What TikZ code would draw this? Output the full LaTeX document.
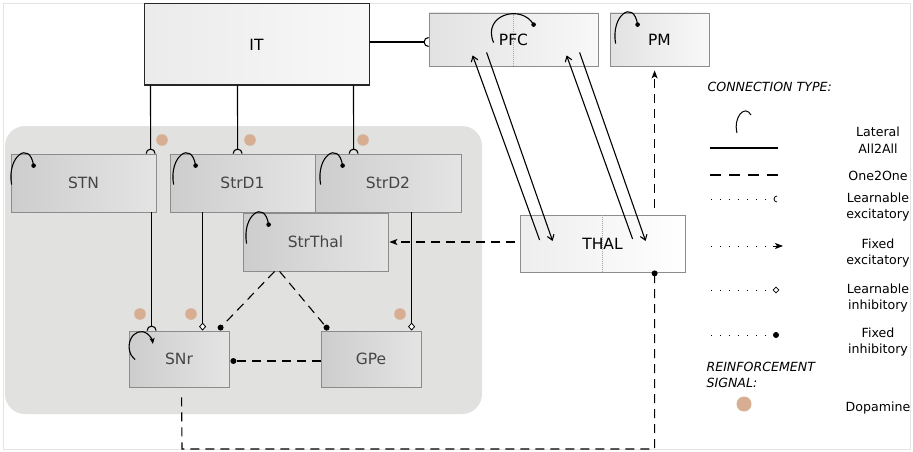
\documentclass[tikz,border=0pt]{standalone}
\usepackage{fontspec}
\setmainfont{DejaVu Sans}
\usetikzlibrary{arrows.meta,calc,shapes.geometric}
\definecolor{regionfill}{HTML}{E1E1E0}
\definecolor{inL}{HTML}{CDCDCD}
\definecolor{inR}{HTML}{E4E4E4}
\definecolor{outL}{HTML}{E2E2E2}
\definecolor{outR}{HTML}{F8F8F8}
\definecolor{boxline}{HTML}{8C8C8C}
\definecolor{intext}{HTML}{454545}
\definecolor{dopacol}{HTML}{D8AE93}
\definecolor{framecol}{HTML}{E4E4E4}
\definecolor{divider}{HTML}{A8A8A8}
\begin{document}
\begin{tikzpicture}[x=1pt,y=-1pt,
  box/.style={draw=boxline, line width=0.8pt, inner sep=0pt,
    text height=11.3pt, text depth=0pt, font=\fontsize{15.5}{18}\selectfont},
  inbox/.style={box, left color=inL, right color=inR, text=intext},
  outbox/.style={box, left color=outL, right color=outR},
  conn/.style={draw=black, line width=1.1pt},
  dconn/.style={conn, dash pattern=on 9pt off 6pt},
  dotline/.style={draw=black, line width=1pt, dash pattern=on 0.9pt off 8.1pt},
  dopa/.style={fill=dopacol},
  leg/.style={font=\fontsize{12.6}{16}\selectfont, anchor=base, align=center},
  legh/.style={font=\fontsize{12.6}{16}\selectfont\itshape, anchor=base west, align=left},
  fixtip/.style={-{Stealth[length=8pt,width=6pt,inset=2pt]}},
  bartip/.style={-{Straight Barb[length=5pt,width=7pt]}},
  diatip/.style={-{Diamond[fill=white,length=8pt,width=7pt,line width=0.8pt]}},
  lateral/.pic={\draw[line width=1.1pt] (0,31) .. controls (-5,3) and (18,-14) .. (22,12);
                \fill (22,12) circle (2.3pt);},
  lexc/.pic={\draw[line width=1.1pt] (-4.5pt,0pt) arc[start angle=180,end angle=0,radius=4.5pt];}
]
\useasboundingbox (0,0) rectangle (913,452);
\draw[framecol, line width=0.8pt] (3.5,3.5) rectangle (910,449.5);

% basal ganglia region
\fill[regionfill, rounded corners=20pt] (5,126) rectangle (482,414);

% nodes
\node[box, draw=black!85, line width=1pt, left color=outL!70!white, right color=outR,
      minimum width=225pt, minimum height=81pt] (IT) at (256.5,44.5) {IT};
\node[outbox, minimum width=169pt, minimum height=53pt] (PFC) at (513.5,39.5) {PFC};
\node[outbox, minimum width=99pt, minimum height=53pt] (PM) at (659.5,39.5) {PM};
\node[inbox, minimum width=145pt, minimum height=58pt] (StrThal) at (315.5,242) {StrThal};
\node[inbox, minimum width=145pt, minimum height=58pt] (STN) at (83.5,183) {STN};
\node[inbox, minimum width=145pt, minimum height=58pt] (StrD1) at (242.5,183) {StrD1};
\node[inbox, minimum width=146pt, minimum height=58pt] (StrD2) at (388,183) {StrD2};
\node[inbox, minimum width=100pt, minimum height=56pt] (SNr) at (179,359) {SNr};
\node[inbox, minimum width=100pt, minimum height=56pt] (GPe) at (371,359) {GPe};
\node[outbox, left color=outL!85!gray!40!white, right color=white, minimum width=165pt, minimum height=57pt] (THAL) at (602.5,243.5) {THAL};

% dividers
\draw[divider, line width=0.7pt, dash pattern=on 1pt off 1pt] (PFC.north) -- (PFC.south);
\draw[divider, line width=0.7pt, dash pattern=on 1pt off 1pt] (THAL.north) -- (THAL.south);

% lateral connections
\pic at ([shift={(1,0)}]STN.north west) {lateral};
\pic at ([shift={(4,0)}]StrD1.north west) {lateral};
\pic at ([shift={(6,0)}]StrD2.north west) {lateral};
\pic at ([shift={(4,0)}]StrThal.north west) {lateral};
\pic at ([shift={(6,0)}]PM.north west) {lateral};
\draw[line width=1.1pt] ([shift={(65,30)}]PFC.north west) .. controls ([shift={(53,2)}]PFC.north west) and ([shift={(93,-9)}]PFC.north west) .. ([shift={(105,12)}]PFC.north west) coordinate (pfcdot);
\fill (pfcdot) circle (2.3pt);
\draw[line width=1.1pt, -{Stealth[length=6pt,width=5pt,inset=1.5pt]}] ([shift={(6.5,29)}]SNr.north west) arc[start angle=240, end angle=10, x radius=12pt, y radius=15pt];

% IT -> PFC
\draw[conn] ([shift={(0,-2.5)}]IT.east) -- ([shift={(-4.5,2.5)}]PFC.west);
\pic[rotate=90] at ([shift={(0,2.5)}]PFC.west) {lexc};

% IT -> STN, StrD1, StrD2
\draw[conn] ([shift={(7,0)}]IT.south west) -- ([shift={(140,-4.5)}]STN.north west);
\pic at ([shift={(140,0)}]STN.north west) {lexc};
\draw[conn] ([shift={(94,0)}]IT.south west) -- ([shift={(68,-4.5)}]StrD1.north west);
\pic at ([shift={(68,0)}]StrD1.north west) {lexc};
\draw[conn] ([shift={(210,0)}]IT.south west) -- ([shift={(39,-4.5)}]StrD2.north west);
\pic at ([shift={(39,0)}]StrD2.north west) {lexc};

% STN -> SNr, StrD1 -> SNr, StrD2 -> GPe
\draw[conn] ([shift={(141,0)}]STN.south west) -- ([shift={(23,-4.5)}]SNr.north west);
\pic at ([shift={(23,0)}]SNr.north west) {lexc};
\draw[conn, diatip] ([shift={(33,0)}]StrD1.south west) -- ([shift={(74,0)}]SNr.north west);
\draw[conn, diatip] ([shift={(97,0)}]StrD2.south west) -- ([shift={(91,0)}]GPe.north west);

% dopamine dots
\fill[dopa] (162,140) circle (5.8pt);
\fill[dopa] (250,140) circle (5.8pt);
\fill[dopa] (363,140) circle (5.8pt);
\fill[dopa] (140,314) circle (5.8pt);
\fill[dopa] (191,314) circle (5.8pt);
\fill[dopa] (400,314) circle (5.8pt);

% StrThal -> SNr, GPe ; GPe -> SNr
\draw[dconn] ([shift={(32,0)}]StrThal.south west) -- ([shift={(92,-3)}]SNr.north west) coordinate (d1);
\fill (d1) circle (3pt);
\draw[dconn] ([shift={(37,0)}]StrThal.south west) -- ([shift={(6,-3)}]GPe.north west) coordinate (d2);
\fill (d2) circle (3pt);
\draw[dconn] ([shift={(0,2)}]GPe.west) -- ([shift={(4,2)}]SNr.east) coordinate (d3);
\fill (d3) circle (3pt);

% SNr -> THAL
\coordinate (corner) at (182,449);
\draw[dconn] ([shift={(53,10)}]SNr.south west) -- (corner) -| ([shift={(135,0)}]THAL.south west) coordinate (d4);
\fill ([shift={(0,1)}]d4) circle (3pt);

% THAL -> StrThal, THAL -> PM
\draw[dconn, fixtip] ([shift={(-5,-1.5)}]THAL.west) -- ([shift={(1,0)}]StrThal.east);
\draw[dconn, fixtip] ([shift={(135,-7)}]THAL.north west) -- ([shift={(45,4)}]PM.south west);

% PFC <-> THAL
\draw[conn, bartip] ([shift={(20,-3.5)}]THAL.west) -- ([shift={(44,-11)}]PFC.south west);
\draw[conn, bartip] ([shift={(58,-14)}]PFC.south west) -- ([shift={(33,-2.5)}]THAL.west);
\draw[conn, bartip] ([shift={(113,-4.5)}]THAL.west) -- ([shift={(138,-11)}]PFC.south west);
\draw[conn, bartip] ([shift={(151,-14)}]PFC.south west) -- ([shift={(126,-2.5)}]THAL.west);

% legend
\node[legh] (lt) at (704,92) {CONNECTION TYPE:};
\draw[line width=1pt] (737,133) .. controls (733,117) and (745,104) .. (751,115);
\node[leg] (l1) at (878,136) {Lateral};
\coordinate (a1) at (710,148); \coordinate (a2) at (778,148);
\draw[conn] (a1) -- (a2);
\node[leg] (l2) at (878,153) {All2All};
\coordinate (b1) at (710,175); \coordinate (b2) at (778,175);
\draw[conn, dash pattern=on 11pt off 8pt] (b1) -- (b2);
\node[leg] (l3) at (878,180) {One2One};
\coordinate (c1) at (711,199); \coordinate (c2) at (773,199);
\draw[dotline] (c1) -- (c2);
\draw[line width=0.8pt] ([shift={(4,-3)}]c2) arc[start angle=90,end angle=270,radius=3pt];
\node[leg] (l4) at (878,218) {Learnable\\excitatory};
\coordinate (e1) at (711,246); \coordinate (e2) at (783,246);
\draw[dotline] (e1) -- ([shift={(-8,0)}]e2);
\draw[-{Stealth[length=8pt,width=6pt,inset=2pt]}, line width=0.8pt] ([shift={(-10,0)}]e2) -- (e2);
\node[leg] (l5) at (878,264) {Fixed\\excitatory};
\coordinate (f1) at (711,290); \coordinate (f2) at (773,290);
\draw[dotline] (f1) -- (f2);
\node[draw, line width=0.6pt, fill=white, diamond, inner sep=0pt, minimum size=6pt] (fd) at (776,290) {};
\node[leg] (l6) at (878,309) {Learnable\\inhibitory};
\coordinate (g1) at (711,335); \coordinate (g2) at (776,335);
\draw[dotline] (g1) -- (g2);
\fill (g2) circle (3pt);
\node[leg] (l7) at (878,353) {Fixed\\inhibitory};
\node[legh] (lr) at (703,387) {REINFORCEMENT\\SIGNAL:};
\fill[dopa] (744,404) circle (7.5pt);
\node[leg] (l8) at (878,411) {Dopamine};
\end{tikzpicture}
\end{document}
